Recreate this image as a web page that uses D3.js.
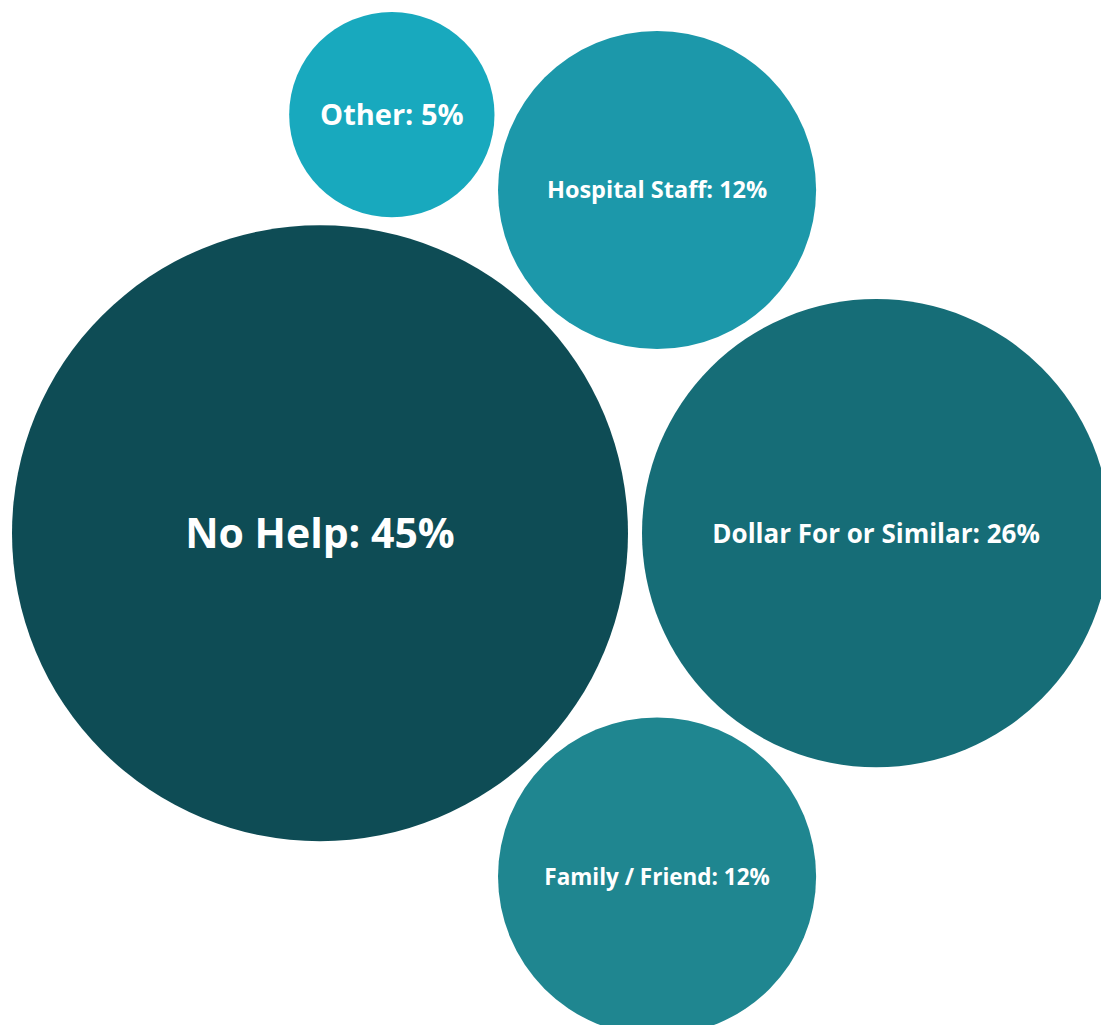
<!DOCTYPE html>
<html>
<head>
<meta charset="utf-8">
<script src="https://cdn.jsdelivr.net/npm/d3@7"></script>
<style>
  html, body { margin: 0; padding: 0; background: #ffffff; overflow: hidden; }
  svg { display: block; }
</style>
</head>
<body>
<svg id="chart" width="1101" height="1025"></svg>
<script>
// Where patients got help with their medical bills (share of respondents, %)
const categories = ["No Help", "Dollar For or Similar", "Family / Friend", "Hospital Staff", "Other"];
const values = [45, 26, 12, 12, 5];

// Styling per category
const fills = {
  "No Help": "#0e4c55",
  "Dollar For or Similar": "#166d77",
  "Family / Friend": "#1f8690",
  "Hospital Staff": "#1c98aa",
  "Other": "#18a9be"
};
const fontSizes = {
  "No Help": 41,
  "Dollar For or Similar": 26,
  "Family / Friend": 22.5,
  "Hospital Staff": 23.5,
  "Other": 29
};

const width = 1101, height = 1025;
const margin = 12;
const pad = 7; // half the gap between neighbouring bubbles

// bubble area proportional to value
const r = d3.scaleSqrt().domain([0, d3.max(values)]).range([0, 308]);

const nodes = categories.map((c, i) => ({ name: c, value: values[i], r: r(values[i]) + pad }));
nodes.sort((a, b) => b.value - a.value);
d3.packSiblings(nodes);
nodes.forEach(n => { n.r -= pad; });

// shift the packed group so it starts at the top-left margin
const x0 = d3.min(nodes, n => n.x - n.r);
const y0 = d3.min(nodes, n => n.y - n.r);

const svg = d3.select("#chart");
const g = svg.append("g")
  .attr("transform", `translate(${margin - x0},${margin - y0})`);

const bubble = g.selectAll("g.bubble")
  .data(nodes)
  .join("g")
  .attr("class", "bubble")
  .attr("transform", d => `translate(${d.x},${d.y})`);

bubble.append("circle")
  .attr("r", d => d.r)
  .attr("fill", d => fills[d.name]);

bubble.append("text")
  .attr("text-anchor", "middle")
  .attr("dy", "0.36em")
  .attr("fill", "#ffffff")
  .style("font-family", "'Open Sans', 'DejaVu Sans', sans-serif")
  .style("font-weight", 700)
  .style("font-size", d => fontSizes[d.name] + "px")
  .text(d => `${d.name}: ${d.value}%`);
</script>
</body>
</html>
